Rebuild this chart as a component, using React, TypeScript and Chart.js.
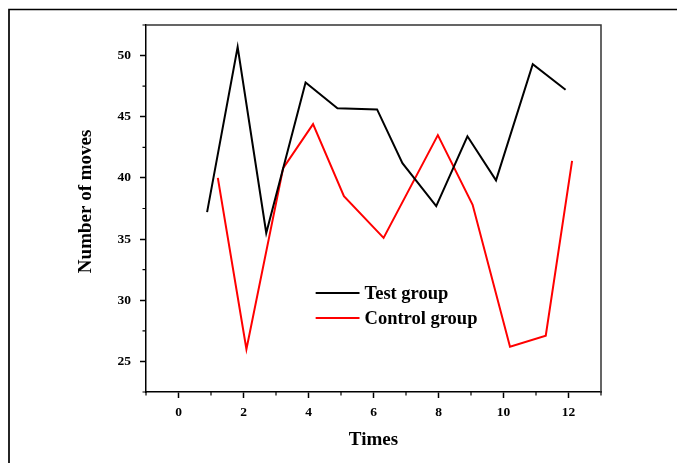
import React, { useEffect, useRef } from "react";
import { Chart, registerables } from "chart.js";

Chart.register(...registerables);

const testX = [0.88, 1.82, 2.7, 3.91, 4.89, 6.11, 6.89, 7.93, 8.89, 9.77, 10.9, 11.91];
const testY = [37.2, 50.7, 35.5, 47.8, 45.7, 45.6, 41.2, 37.7, 43.4, 39.8, 49.3, 47.2];
const ctrlX = [1.21, 2.09, 3.22, 4.14, 5.09, 6.31, 7.98, 9.05, 10.2, 11.3, 12.11];
const ctrlY = [40.0, 26.0, 40.8, 44.4, 38.5, 35.1, 43.5, 37.8, 26.2, 27.1, 41.4];

const xTicks = [0, 2, 4, 6, 8, 10, 12];
const xMinorTicks = [-1, 1, 3, 5, 7, 9, 11, 13];
const yTicks = [25, 30, 35, 40, 45, 50];
const yMinorTicks = [22.5, 27.5, 32.5, 37.5, 42.5, 47.5, 52.5];

const seriesNames = ["Test group", "Control group"];
const seriesColors = ["#000000", "#ff0000"];

const FONT = "'Liberation Serif', 'Times New Roman', serif";

const decorPlugin = {
  id: "decor",
  afterDraw(chart: any) {
    const { ctx, chartArea } = chart;
    const xs = chart.scales.x;
    const ys = chart.scales.y;
    ctx.save();
    // outer frame
    ctx.strokeStyle = "#000";
    ctx.lineWidth = 1.7;
    ctx.beginPath();
    ctx.moveTo(9, 463);
    ctx.lineTo(9, 9.5);
    ctx.lineTo(677, 9.5);
    ctx.stroke();
    // top/right plot border
    ctx.strokeStyle = "#333";
    ctx.lineWidth = 1.5;
    ctx.beginPath();
    ctx.moveTo(chartArea.left, chartArea.top);
    ctx.lineTo(chartArea.right, chartArea.top);
    ctx.lineTo(chartArea.right, chartArea.bottom);
    ctx.stroke();
    // minor ticks
    ctx.strokeStyle = "#000";
    ctx.lineWidth = 1.2;
    ctx.beginPath();
    xMinorTicks.forEach((v) => {
      const px = xs.getPixelForValue(v);
      ctx.moveTo(px, chartArea.bottom);
      ctx.lineTo(px, chartArea.bottom + 3.5);
    });
    yMinorTicks.forEach((v) => {
      const py = ys.getPixelForValue(v);
      ctx.moveTo(chartArea.left, py);
      ctx.lineTo(chartArea.left - 3.5, py);
    });
    ctx.stroke();
    // legend
    const lx0 = xs.getPixelForValue(4.22);
    const lx1 = xs.getPixelForValue(5.57);
    const ly = [ys.getPixelForValue(30.6), ys.getPixelForValue(28.55)];
    ctx.font = `bold 18.5px ${FONT}`;
    ctx.textBaseline = "middle";
    ctx.textAlign = "left";
    seriesNames.forEach((name, i) => {
      ctx.strokeStyle = seriesColors[i];
      ctx.lineWidth = 2;
      ctx.beginPath();
      ctx.moveTo(lx0, ly[i]);
      ctx.lineTo(lx1, ly[i]);
      ctx.stroke();
      ctx.fillStyle = "#000";
      ctx.fillText(name, lx1 + 5, ly[i] + 1);
    });
    ctx.restore();
  },
};

export default function App() {
  const ref = useRef<HTMLCanvasElement | null>(null);
  useEffect(() => {
    if (!ref.current) return;
    const chart = new Chart(ref.current, {
      type: "scatter",
      data: {
        datasets: [
          {
            label: seriesNames[0],
            data: testX.map((x, i) => ({ x, y: testY[i] })),
            borderColor: seriesColors[0],
            backgroundColor: seriesColors[0],
            showLine: true,
            borderWidth: 2,
            pointRadius: 0,
            tension: 0,
          },
          {
            label: seriesNames[1],
            data: ctrlX.map((x, i) => ({ x, y: ctrlY[i] })),
            borderColor: seriesColors[1],
            backgroundColor: seriesColors[1],
            showLine: true,
            borderWidth: 2,
            pointRadius: 0,
            tension: 0,
          },
        ],
      },
      options: {
        animation: false,
        responsive: false,
        layout: { padding: { left: 70, right: 76, top: 25, bottom: 0 } },
        plugins: { legend: { display: false }, tooltip: { enabled: false } },
        scales: {
          x: {
            type: "linear",
            min: -1,
            max: 13,
            afterBuildTicks: (s: any) => {
              s.ticks = xTicks.map((v) => ({ value: v }));
            },
            afterFit: (s: any) => {
              s.height = 71;
            },
            grid: { drawOnChartArea: false, drawTicks: true, tickLength: 6, tickColor: "#000", tickWidth: 1.5 },
            border: { display: true, color: "#000", width: 1.5 },
            ticks: { color: "#000", padding: 6, font: { family: FONT, size: 13.5, weight: "bold" } },
            title: {
              display: true,
              text: "Times",
              color: "#000",
              font: { family: FONT, size: 19, weight: "bold" },
              padding: { top: 9, bottom: 11.6 },
            },
          },
          y: {
            type: "linear",
            min: 22.5,
            max: 52.5,
            afterBuildTicks: (s: any) => {
              s.ticks = yTicks.map((v) => ({ value: v }));
            },
            afterFit: (s: any) => {
              s.width = 76;
            },
            grid: { drawOnChartArea: false, drawTicks: true, tickLength: 6, tickColor: "#000", tickWidth: 1.5 },
            border: { display: true, color: "#000", width: 1.5 },
            ticks: { color: "#000", padding: 9, font: { family: FONT, size: 13.5, weight: "bold" } },
            title: {
              display: true,
              text: "   Number of moves",
              color: "#000",
              font: { family: FONT, size: 19, weight: "bold" },
              padding: { top: 4.6, bottom: 0 },
            },
          },
        },
      },
      plugins: [decorPlugin],
    });
    return () => chart.destroy();
  }, []);
  return (
    <div style={{ position: "fixed", left: 0, top: 0, width: 677, height: 463, background: "#fff" }}>
      <canvas ref={ref} width={677} height={463} style={{ display: "block" }} />
    </div>
  );
}
